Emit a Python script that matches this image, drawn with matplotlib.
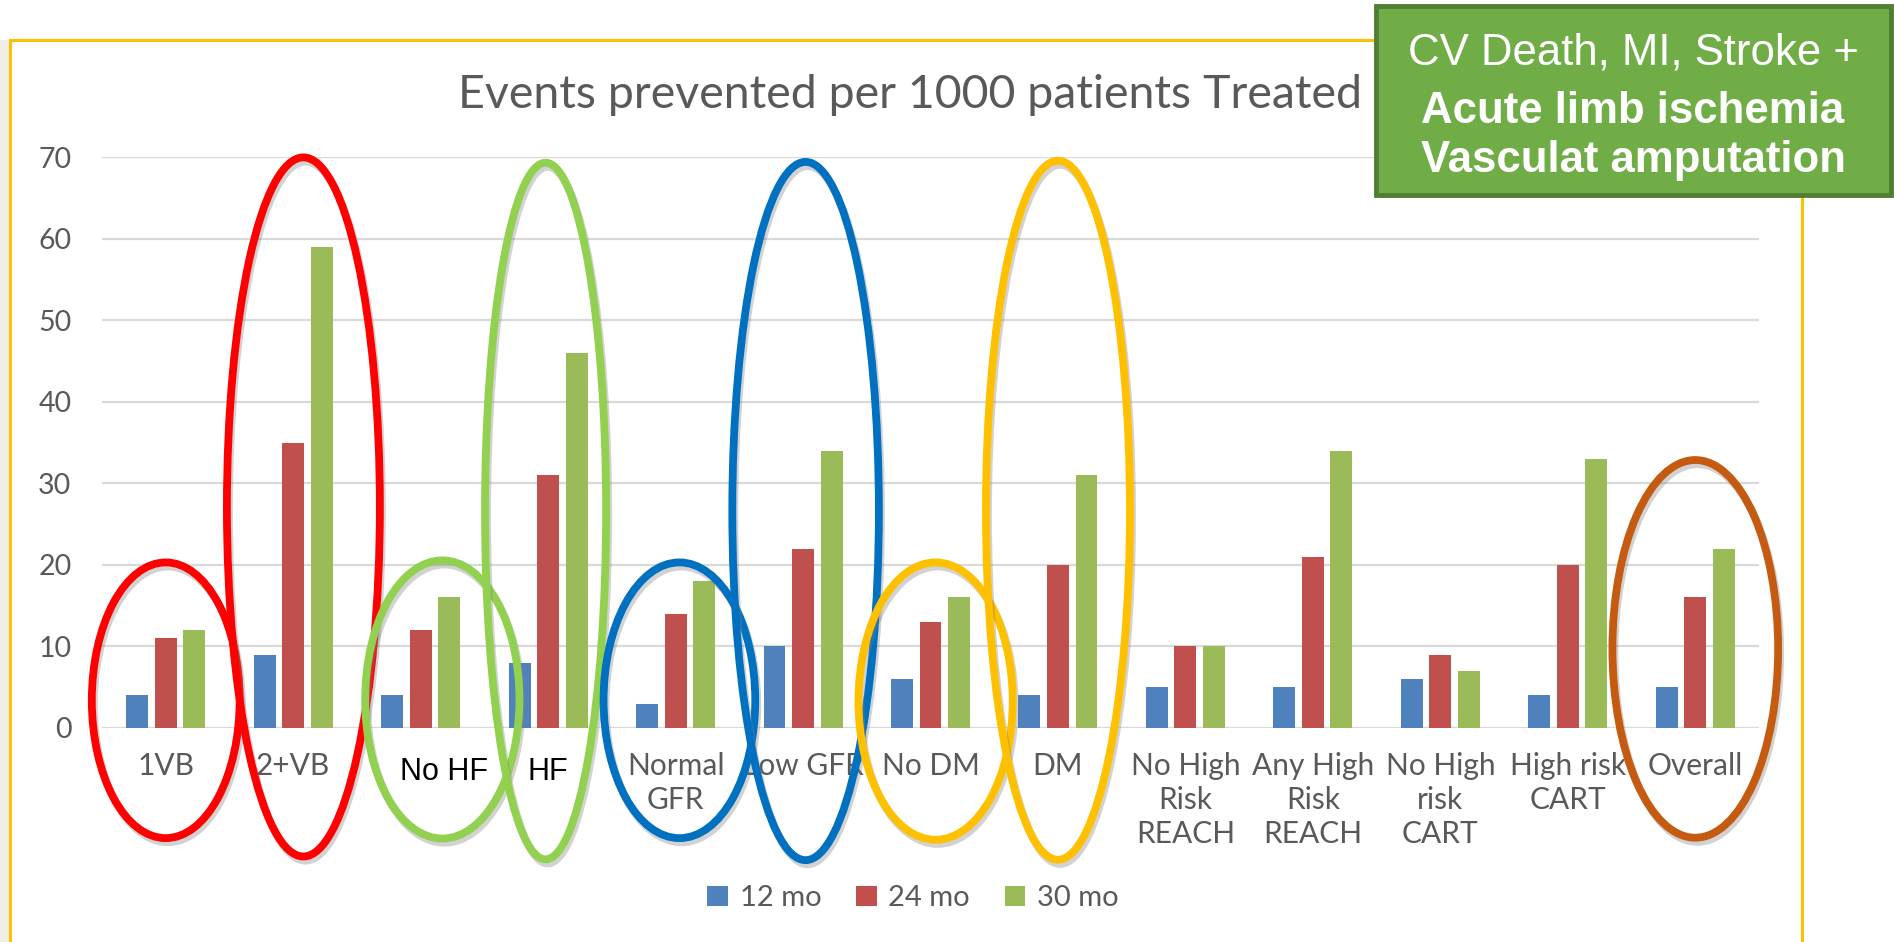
import matplotlib
matplotlib.use('Agg')
import matplotlib.pyplot as plt
import matplotlib.patheffects as pe
from matplotlib.patches import Ellipse, Rectangle
import numpy as np

# Chart data (events prevented per 1000 patients treated)
categories = ['1VB', '2+VB', 'No HF', 'HF', 'Normal\nGFR', 'Low GFR', 'No DM', 'DM',
              'No High\nRisk\nREACH', 'Any High\nRisk\nREACH', 'No High\nrisk\nCART',
              'High risk\nCART', 'Overall']
series_names = ['12 mo', '24 mo', '30 mo']
mo12 = [4, 9, 4, 8, 3, 10, 6, 4, 5, 5, 6, 4, 5]
mo24 = [11, 35, 12, 31, 14, 22, 13, 20, 10, 21, 9, 20, 16]
mo30 = [12, 59, 16, 46, 18, 34, 16, 31, 10, 34, 7, 33, 22]
y_ticks = [0, 10, 20, 30, 40, 50, 60, 70]

# Labels pasted over the slide in black
overlay_labels = ['No HF', 'HF']

# Highlight rings drawn over the chart: (category, centre value, width, height, colour)
rings = [
    (0.0, 3.4, 1.16, 33.8, '#FF0000'),
    (1.08, 27.1, 1.20, 85.7, '#FF0000'),
    (2.17, 3.5, 1.21, 34.1, '#92D050'),
    (2.98, 26.6, 0.95, 85.4, '#92D050'),
    (4.03, 3.4, 1.19, 33.8, '#0070C0'),
    (5.02, 26.6, 1.15, 85.6, '#0070C0'),
    (6.04, 3.3, 1.21, 34.0, '#FFC000'),
    (7.00, 26.7, 1.13, 85.7, '#FFC000'),
    (12.0, 9.7, 1.30, 46.3, '#C55A11'),
]

W, H = 1894, 942
GRAY = '#595959'
FONT = 'Lato'

fig = plt.figure(figsize=(W / 100, H / 100), dpi=100)
fig.patch.set_facecolor('white')

# faint slide background strip on the far left
fig.add_artist(Rectangle((0, 0), 10 / W, 1 - 40 / H, transform=fig.transFigure,
                         facecolor='#F1EEE8', edgecolor='none', zorder=0))

# plot area (pixel bounds)
left, right, bottom, top = 102, 1759, 728, 157
ax = fig.add_axes([left / W, 1 - bottom / H, (right - left) / W, (bottom - top) / H])

x = np.arange(len(categories))
offset = 0.224
bw = 0.172
colors = ['#4F81BD', '#C0504D', '#9BBB59']
for i, (vals, name) in enumerate(zip([mo12, mo24, mo30], series_names)):
    ax.bar(x + (i - 1) * offset, vals, width=bw, color=colors[i], label=name, zorder=3)

ax.set_xlim(-0.5, len(categories) - 0.5)
ax.set_ylim(0, 70)
ax.set_yticks(y_ticks)
ax.set_yticklabels([str(t) for t in y_ticks], fontsize=20.5, color=GRAY, family=FONT)
ax.yaxis.grid(True, color='#D9D9D9', linewidth=1.6, zorder=0)
ax.set_axisbelow(True)
for s in ax.spines.values():
    s.set_visible(False)
ax.tick_params(axis='both', length=0)
ax.tick_params(axis='y', pad=22)
ax.tick_params(axis='x', pad=17)

tick_text = ['' if c in overlay_labels else c for c in categories]
ax.set_xticks(x)
ax.set_xticklabels(tick_text, fontsize=21.5, color=GRAY, family=FONT, linespacing=1.27)

# black overlay labels
ax.text(categories.index('No HF') + 0.18, -3.5, 'No HF', ha='center', va='top',
        fontsize=22, color='black', family='Liberation Sans')
ax.text(categories.index('HF'), -3.5, 'HF', ha='center', va='top',
        fontsize=22, color='black', family='Liberation Sans')

# highlight rings
for cx, cy, w, h, c in rings:
    e = Ellipse((cx, cy), w, h, fill=False, edgecolor=c, linewidth=5.6,
                clip_on=False, zorder=6)
    e.set_path_effects([pe.SimpleLineShadow(offset=(1.5, -3), shadow_color='#7F7F7F', alpha=0.35),
                        pe.Normal()])
    ax.add_patch(e)

# title
fig.text(910 / W, 1 - 108 / H, 'Events prevented per 1000 patients Treated',
         ha='center', va='baseline', fontsize=33.5, color=GRAY, family=FONT)

# legend
handles, labels = ax.get_legend_handles_labels()
leg = fig.legend(handles, labels, loc='center', bbox_to_anchor=(913 / W, 1 - 898 / H),
                 ncol=3, frameon=False, fontsize=21, handlelength=0.7, handleheight=0.7,
                 handletextpad=0.4, columnspacing=1.2)
for t in leg.get_texts():
    t.set_color(GRAY)
    t.set_family(FONT)

# slide frame
fig.add_artist(Rectangle((10 / W, -0.1), (1802 - 10) / W, 1.1 - 40 / H,
                         transform=fig.transFigure, fill=False, edgecolor='#FFC000',
                         linewidth=2.2, zorder=1))

# green call-out box
fig.add_artist(Rectangle((1376 / W, 1 - 195 / H), (1891 - 1376) / W, (195 - 6) / H,
                         transform=fig.transFigure, facecolor='#70AD47', edgecolor='#507E32',
                         linewidth=3.5, zorder=10))
box_lines = [('CV Death, MI, Stroke +', 'normal', 64),
             ('Acute limb ischemia', 'bold', 123),
             ('Vasculat amputation', 'bold', 172)]
for txt, wt, base in box_lines:
    fig.text(1633 / W, 1 - base / H, txt, ha='center', va='baseline', fontsize=31.5,
             fontweight=wt, color='white', family='Liberation Sans', zorder=11)

fig.savefig('out.png', dpi=100)
